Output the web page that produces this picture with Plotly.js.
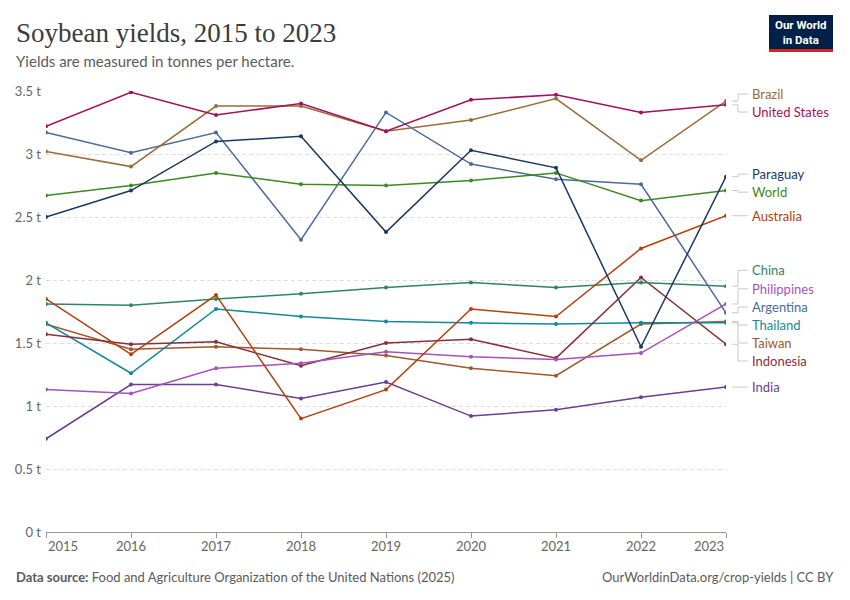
<!DOCTYPE html>
<html>
<head>
<meta charset="utf-8">
<script src="https://cdn.plot.ly/plotly-3.0.1.min.js"></script>
<style>
  html, body { margin: 0; padding: 0; background: #fff; }
  #chart { width: 850px; height: 600px; }
</style>
</head>
<body>
<div id="chart"></div>
<script>
// ---- Data (tonnes per hectare) ----
const years = [2015, 2016, 2017, 2018, 2019, 2020, 2021, 2022, 2023];

const brazil       = [3.02, 2.90, 3.38, 3.38, 3.18, 3.27, 3.44, 2.95, 3.42];
const unitedStates = [3.22, 3.49, 3.31, 3.40, 3.18, 3.43, 3.47, 3.33, 3.39];
const paraguay     = [2.50, 2.71, 3.10, 3.14, 2.38, 3.03, 2.89, 1.47, 2.82];
const world        = [2.67, 2.75, 2.85, 2.76, 2.75, 2.79, 2.85, 2.63, 2.71];
const australia    = [1.85, 1.41, 1.88, 0.90, 1.13, 1.77, 1.71, 2.25, 2.51];
const china        = [1.81, 1.80, 1.85, 1.89, 1.94, 1.98, 1.94, 1.98, 1.95];
const philippines  = [1.13, 1.10, 1.30, 1.34, 1.43, 1.39, 1.37, 1.42, 1.81];
const argentina    = [3.17, 3.01, 3.17, 2.32, 3.33, 2.92, 2.80, 2.76, 1.74];
const thailand     = [1.66, 1.26, 1.77, 1.71, 1.67, 1.66, 1.65, 1.66, 1.66];
const taiwan       = [1.65, 1.45, 1.47, 1.45, 1.40, 1.30, 1.24, 1.65, 1.67];
const indonesia    = [1.57, 1.49, 1.51, 1.32, 1.50, 1.53, 1.38, 2.02, 1.49];
const india        = [0.74, 1.17, 1.17, 1.06, 1.19, 0.92, 0.97, 1.07, 1.15];

const yTickVals  = [0, 0.5, 1, 1.5, 2, 2.5, 3, 3.5];
const yTickText  = ["0 t", "0.5 t", "1 t", "1.5 t", "2 t", "2.5 t", "3 t", "3.5 t"];
const xTickText  = ["2015", "2016", "2017", "2018", "2019", "2020", "2021", "2022", "2023"];

// ---- Series styling & end-label layout (label y given in axis units) ----
const series = [
  {name: "India",         y: india,        color: "#6d3e91", labelY: 1.14},
  {name: "Taiwan",        y: taiwan,       color: "#a0582c", labelY: 1.50},
  {name: "Thailand",      y: thailand,     color: "#0f8a99", labelY: 1.642},
  {name: "Indonesia",     y: indonesia,    color: "#883039", labelY: 1.357},
  {name: "Philippines",   y: philippines,  color: "#a652ba", labelY: 1.93},
  {name: "China",         y: china,        color: "#2e8565", labelY: 2.077},
  {name: "Australia",     y: australia,    color: "#b5400e", labelY: 2.508},
  {name: "Argentina",     y: argentina,    color: "#4c6a9c", labelY: 1.785},
  {name: "World",         y: world,        color: "#3c8a1e", labelY: 2.697},
  {name: "Paraguay",      y: paraguay,     color: "#183865", labelY: 2.84},
  {name: "Brazil",        y: brazil,       color: "#9a6c3a", labelY: 3.476},
  {name: "United States", y: unitedStates, color: "#a2115a", labelY: 3.333}
];

const traces = series.map(s => ({
  type: "scatter",
  mode: "lines+markers",
  x: years,
  y: s.y,
  name: s.name,
  line: {color: s.color, width: 1.5},
  marker: {color: s.color, size: 4},
  hoverinfo: "skip"
}));

const plotW = 850 - 46 - 124;
const plotH = 600 - 91 - 68;
const px = p => 1 + p / plotW;        // pixels right of plot -> paper x
const pxAbs = p => (p - 46) / plotW;  // absolute page x -> paper x
const pyAbs = p => (532 - p) / plotH; // absolute page y -> paper y

const shapes = [];
const annotations = [];
series.forEach(s => {
  const last = s.y[s.y.length - 1];
  const straight = Math.abs(last - s.labelY) < 0.012;
  const ly = straight ? last : s.labelY;
  if (straight) {
    shapes.push({type: "line", xref: "paper", yref: "y", x0: px(6), x1: px(22), y0: last, y1: last,
                 line: {color: "#c8c8c8", width: 1}});
  } else {
    shapes.push({type: "line", xref: "paper", yref: "y", x0: px(6), x1: px(12), y0: last, y1: last,
                 line: {color: "#c8c8c8", width: 1}});
    shapes.push({type: "line", xref: "paper", yref: "y", x0: px(12), x1: px(12), y0: last, y1: s.labelY,
                 line: {color: "#c8c8c8", width: 1}});
    shapes.push({type: "line", xref: "paper", yref: "y", x0: px(12), x1: px(22), y0: s.labelY, y1: s.labelY,
                 line: {color: "#c8c8c8", width: 1}});
  }
  annotations.push({
    xref: "paper", yref: "y", x: px(25), y: ly,
    xanchor: "left", yanchor: "middle", showarrow: false, borderpad: 0,
    text: s.name, font: {family: "Lato, sans-serif", size: 13, color: s.color}
  });
});

// x tick labels (edge labels kept inside the axis span)
years.forEach((yr, i) => {
  let anchor = "center";
  if (i === 0) anchor = "left";
  if (i === years.length - 1) anchor = "right";
  annotations.push({
    xref: "x", yref: "paper", x: yr, y: 0, yanchor: "top", xanchor: anchor,
    yshift: -4, showarrow: false, text: xTickText[i],
    font: {family: "Lato, sans-serif", size: 13, color: "#666"}
  });
});

// Title, subtitle, footer
annotations.push({
  xref: "paper", yref: "paper", x: pxAbs(14), y: pyAbs(33), xanchor: "left", yanchor: "middle",
  showarrow: false, text: "Soybean yields, 2015 to 2023",
  font: {family: "Liberation Serif, DejaVu Serif, serif", size: 27, color: "#3b3b3b"}
});
annotations.push({
  xref: "paper", yref: "paper", x: pxAbs(14), y: pyAbs(61), xanchor: "left", yanchor: "middle",
  showarrow: false, text: "Yields are measured in tonnes per hectare.",
  font: {family: "Lato, sans-serif", size: 15, color: "#5b5b5b"}
});
annotations.push({
  xref: "paper", yref: "paper", x: pxAbs(14), y: pyAbs(577), xanchor: "left", yanchor: "middle",
  showarrow: false,
  text: "<b>Data source:</b> Food and Agriculture Organization of the United Nations (2025)",
  font: {family: "Lato, sans-serif", size: 13, color: "#5b5b5b"}
});
annotations.push({
  xref: "paper", yref: "paper", x: pxAbs(836), y: pyAbs(577), xanchor: "right", yanchor: "middle",
  showarrow: false, text: "OurWorldinData.org/crop-yields | CC BY",
  font: {family: "Lato, sans-serif", size: 13, color: "#5b5b5b"}
});
// Logo text
annotations.push({
  xref: "paper", yref: "paper", x: pxAbs(801), y: pyAbs(32), xanchor: "center", yanchor: "middle",
  showarrow: false, text: "<b>Our World</b><br><b>in Data</b>",
  font: {family: "Roboto, Lato, sans-serif", size: 11.5, color: "#ffffff"}
});

// Logo box
shapes.push({type: "rect", xref: "paper", yref: "paper",
  x0: pxAbs(769), x1: pxAbs(833), y0: pyAbs(49), y1: pyAbs(15),
  fillcolor: "#002147", line: {width: 0}, layer: "below"});
shapes.push({type: "rect", xref: "paper", yref: "paper",
  x0: pxAbs(769), x1: pxAbs(833), y0: pyAbs(52), y1: pyAbs(49),
  fillcolor: "#ce261e", line: {width: 0}, layer: "below"});

const layout = {
  width: 850, height: 600,
  margin: {l: 46, r: 124, t: 91, b: 68},
  paper_bgcolor: "#fff", plot_bgcolor: "#fff",
  showlegend: false,
  hovermode: false,
  font: {family: "Lato, sans-serif", color: "#666"},
  xaxis: {
    range: [2015, 2023], showgrid: false, zeroline: false,
    showline: true, linecolor: "#999", linewidth: 1,
    ticks: "outside", ticklen: 5, tickcolor: "#999",
    tickvals: years, showticklabels: false, fixedrange: true
  },
  yaxis: {
    range: [0, 3.5], tickvals: yTickVals, ticktext: yTickText,
    showgrid: true, gridcolor: "#dddddd", griddash: "4px,3px", gridwidth: 1,
    zeroline: false, showline: false, ticks: "",
    tickfont: {family: "Lato, sans-serif", size: 13, color: "#666"},
    ticklabelstandoff: 4, fixedrange: true
  },
  shapes: shapes,
  annotations: annotations
};

Plotly.newPlot("chart", traces, layout, {displayModeBar: false, staticPlot: true});
</script>
</body>
</html>
